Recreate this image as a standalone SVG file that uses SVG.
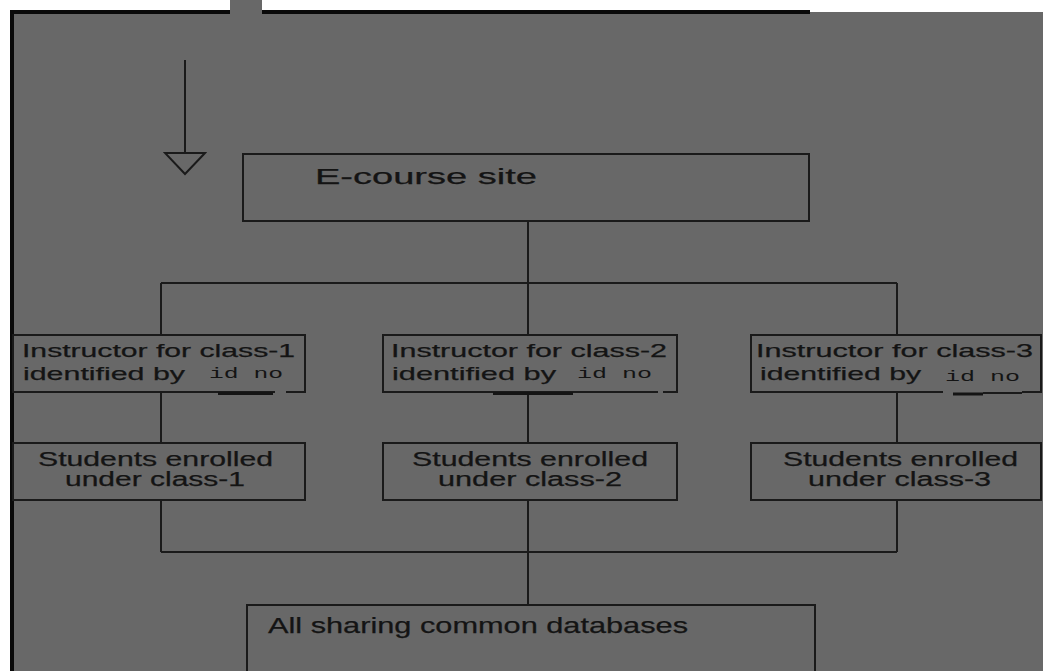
<svg xmlns="http://www.w3.org/2000/svg" width="1043" height="671" viewBox="0 0 1043 671">
  <style>
    .bg { fill: #686868; }
    .box { fill: none; stroke: #1a1a1a; stroke-width: 2; }
    .conn { fill: none; stroke: #1a1a1a; stroke-width: 2; }
    .ul { fill: none; stroke: #141414; stroke-width: 3; }
    .t { font-family: "Liberation Sans", Arial, sans-serif; fill: #141414; stroke: #141414; stroke-width: 0.25; }
    .m { font-family: "Liberation Mono", "Courier New", monospace; fill: #141414; font-size: 14px; }
    .inst { font-size: 19px; }
    .stud { font-size: 20px; }
    .big { font-size: 22px; }
  </style>
  <defs>
    <marker id="openTri" viewBox="0 0 24 44" refX="1" refY="22" markerWidth="24" markerHeight="44" markerUnits="userSpaceOnUse" orient="auto">
      <path d="M1,2 L22,22 L1,42 Z" fill="#686868" stroke="#1a1a1a" stroke-width="2"/>
    </marker>
  </defs>

  <!-- page background and scan borders -->
  <rect x="0" y="0" width="1043" height="671" fill="#ffffff"/>
  <rect class="bg" x="12" y="12" width="1031" height="659"/>
  <rect class="bg" x="230" y="0" width="32" height="12"/>
  <rect x="10" y="10" width="4" height="661" fill="#0a0a0a"/>
  <rect x="10" y="10" width="220" height="4" fill="#0a0a0a"/>
  <rect x="262" y="10" width="548" height="4" fill="#0a0a0a"/>

  <g id="connectors">
    <line class="conn" x1="185" y1="60" x2="185" y2="153" marker-end="url(#openTri)"/>
    <path class="conn" d="M528,221 V283 M161,283 H897 M161,283 V335 M528,283 V335 M897,283 V335"/>
    <path class="conn" d="M161,392 V443 M528,392 V443 M897,392 V443"/>
    <path class="conn" d="M161,500 V552 M897,500 V552 M161,552 H897 M528,500 V605"/>
  </g>

  <g id="ecourse">
    <rect class="box" x="243" y="154" width="566" height="67"/>
    <text class="t big" x="315" y="184" textLength="222" lengthAdjust="spacingAndGlyphs">E-course site</text>
  </g>

  <g id="instructor1">
    <path class="box" d="M286,392 H305 V335 H13 V392 H275"/>
    <line class="ul" x1="218" y1="393.5" x2="273" y2="393.5"/>
    <text class="t inst" x="22" y="357" textLength="273" lengthAdjust="spacingAndGlyphs">Instructor for class-1</text>
    <text class="t inst" x="23" y="380" textLength="162" lengthAdjust="spacingAndGlyphs">identified by</text>
    <text class="m" x="209" y="378" textLength="74" lengthAdjust="spacingAndGlyphs">id no</text>
  </g>

  <g id="instructor2">
    <path class="box" d="M663,392 H677 V335 H383 V392 H658"/>
    <line class="ul" x1="493" y1="393.5" x2="573" y2="393.5"/>
    <text class="t inst" x="391" y="357" textLength="276" lengthAdjust="spacingAndGlyphs">Instructor for class-2</text>
    <text class="t inst" x="392" y="380" textLength="164" lengthAdjust="spacingAndGlyphs">identified by</text>
    <text class="m" x="577" y="378" textLength="75" lengthAdjust="spacingAndGlyphs">id no</text>
  </g>

  <g id="instructor3">
    <path class="box" d="M1022,392 H1041 V335 H751 V392 H943 M983,393 H1022"/>
    <line class="ul" x1="953" y1="394" x2="983" y2="394"/>
    <text class="t inst" x="756" y="357" textLength="277" lengthAdjust="spacingAndGlyphs">Instructor for class-3</text>
    <text class="t inst" x="760" y="380" textLength="161" lengthAdjust="spacingAndGlyphs">identified by</text>
    <text class="m" x="945" y="381" textLength="75" lengthAdjust="spacingAndGlyphs">id no</text>
  </g>

  <g id="students1">
    <rect class="box" x="13" y="443" width="292" height="57"/>
    <text class="t stud" x="38" y="466" textLength="235" lengthAdjust="spacingAndGlyphs">Students enrolled</text>
    <text class="t stud" x="65" y="486" textLength="180" lengthAdjust="spacingAndGlyphs">under class-1</text>
  </g>

  <g id="students2">
    <rect class="box" x="383" y="443" width="294" height="57"/>
    <text class="t stud" x="412" y="466" textLength="236" lengthAdjust="spacingAndGlyphs">Students enrolled</text>
    <text class="t stud" x="438" y="486" textLength="184" lengthAdjust="spacingAndGlyphs">under class-2</text>
  </g>

  <g id="students3">
    <rect class="box" x="751" y="443" width="290" height="57"/>
    <text class="t stud" x="783" y="466" textLength="235" lengthAdjust="spacingAndGlyphs">Students enrolled</text>
    <text class="t stud" x="808" y="486" textLength="183" lengthAdjust="spacingAndGlyphs">under class-3</text>
  </g>

  <g id="databases">
    <path class="box" d="M247,672 V605 H815 V672"/>
    <text class="t big" x="268" y="633" textLength="420" lengthAdjust="spacingAndGlyphs">All sharing common databases</text>
  </g>
</svg>
